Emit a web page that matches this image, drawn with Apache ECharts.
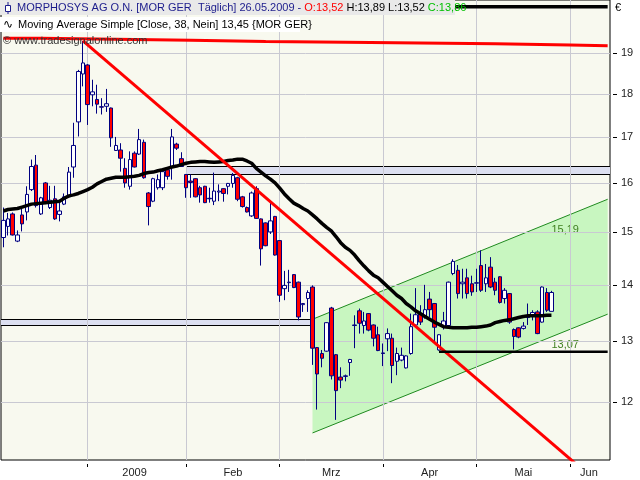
<!DOCTYPE html>
<html><head><meta charset="utf-8">
<script src="https://cdn.jsdelivr.net/npm/echarts@6/dist/echarts.min.js"></script>
<style>html,body{margin:0;padding:0;background:#fff}#c{width:640px;height:480px}</style>
</head><body><div id="c"></div><script>
// ---- categories: trading days (Xetra) ----
const holidays = ['2008-12-24','2008-12-25','2008-12-26','2008-12-31','2009-01-01','2009-04-10','2009-04-13','2009-05-01'];
const days = [];
for (let t = Date.UTC(2008,11,2); t <= Date.UTC(2009,5,11); t += 864e5) {
  const d = new Date(t), wd = d.getUTCDay(), s = d.toISOString().slice(0,10);
  if (wd === 0 || wd === 6 || holidays.includes(s)) continue;
  days.push(s);
}
const monthNames = {'2009-01':'2009','2009-02':'Feb','2009-03':'Mrz','2009-04':'Apr','2009-05':'Mai','2009-06':'Jun'};
const yTicks = [12,13,14,15,16,17,18,19];

// ---- OHLC (02.12.2008 .. 26.05.2009) ----
const open = [14.90,15.12,15.37,14.83,15.35,15.41,15.87,16.39,15.37,16.01,15.50,15.68,15.36,15.57,15.72,16.35,17.35,18.48,
18.70,17.98,17.87,17.70,17.71,17.67,16.71,16.72,16.32,15.94,16.65,16.63,16.89,15.80,15.63,15.91,15.91,16.29,16.36,16.85,16.53,
16.19,16.05,16.10,15.91,15.94,15.69,15.63,15.82,15.89,15.94,16.00,16.12,15.72,15.50,15.33,15.89,15.27,15.19,15.01,15.32,
14.84,13.93,14.04,14.19,14.05,13.64,13.75,13.96,12.89,12.79,12.83,13.58,12.77,12.40,12.41,12.64,13.27,13.53,13.27,13.48,13.28,13.11,
12.80,13.04,13.05,12.66,12.68,12.55,12.79,13.28,13.48,13.42,13.74,13.66,12.85,13.25,13.27,14.21,14.27,14.02,14.13,14.02,
14.03,14.36,14.02,14.33,14.05,14.15,13.75,13.84,13.20,13.23,13.22,13.41,13.45,13.51,13.33,13.86,13.52];
const high = [15.50,15.39,15.40,15.04,15.50,15.94,16.51,16.61,15.72,16.03,15.95,15.95,15.60,15.79,16.35,17.33,18.58,19.30,
18.72,18.34,18.22,17.90,18.12,17.68,17.01,16.87,16.54,16.69,16.69,17.19,16.95,15.82,16.12,16.19,16.29,16.35,17.19,16.88,16.67,
16.20,16.19,16.11,15.95,15.95,15.91,16.23,15.98,15.90,16.01,16.22,16.14,15.74,15.52,15.83,15.94,15.28,15.20,15.61,15.33,
14.85,14.26,14.28,14.20,14.06,13.67,13.90,13.99,12.90,12.85,13.33,13.60,12.78,12.56,12.44,12.70,13.45,13.57,13.51,13.49,13.29,13.25,
12.96,13.22,13.13,12.89,12.89,12.76,13.48,13.94,13.63,14.00,13.87,13.67,13.12,13.51,14.06,14.48,14.37,14.30,14.30,14.17,
14.30,14.65,14.39,14.52,14.13,14.16,13.94,13.85,13.22,13.24,13.33,13.66,13.54,13.54,13.97,13.94,13.89];
const low = [14.71,14.94,14.94,14.81,15.02,15.24,15.84,15.50,15.35,15.57,15.47,15.25,15.22,15.55,15.70,16.12,17.02,18.18,
17.28,17.71,17.54,17.52,17.58,16.79,16.70,16.25,15.91,15.87,16.34,16.61,16.10,15.14,15.61,15.87,15.86,16.08,16.08,16.72,16.35,
15.70,15.70,15.71,15.60,15.59,15.60,15.55,15.63,15.62,15.77,15.91,15.63,15.50,15.40,15.31,15.27,14.36,14.73,14.97,14.55,
13.69,13.72,13.87,13.94,13.36,13.51,13.51,12.60,11.88,12.56,12.82,12.36,11.72,12.22,12.33,12.42,12.88,13.13,13.13,13.17,12.91,12.83,
12.58,12.83,12.30,12.43,12.66,12.54,12.77,13.28,13.28,13.39,13.42,12.98,12.84,13.20,13.26,14.18,13.75,13.75,13.75,13.80,
13.87,13.87,13.87,13.94,13.81,13.66,13.66,13.30,12.86,13.05,13.20,13.28,13.36,13.12,13.32,13.51,13.52];
const close = [15.24,15.27,14.95,14.95,15.17,15.77,16.36,15.54,15.70,15.60,15.65,15.27,15.43,15.72,16.24,16.82,18.54,18.75,
17.75,18.05,17.76,17.69,17.77,16.99,16.82,16.54,16.01,16.51,16.35,16.95,16.12,15.52,16.10,16.08,16.25,16.15,17.01,16.76,16.36,
15.91,16.02,15.72,15.76,15.60,15.68,15.84,15.84,15.79,16.00,16.17,15.67,15.52,15.41,15.80,15.28,14.68,14.74,15.23,14.56,
13.81,13.99,14.05,13.95,13.42,13.66,13.86,12.88,12.45,12.71,13.32,12.42,12.18,12.35,12.42,12.69,13.28,13.31,13.35,13.19,13.05,12.84,
12.79,13.13,12.59,12.79,12.76,12.75,13.25,13.46,13.33,13.55,13.55,13.24,13.11,13.35,14.05,14.44,13.84,14.05,13.84,13.87,
14.04,13.90,14.13,13.96,13.90,13.68,13.90,13.33,13.08,13.07,13.26,13.42,13.50,13.13,13.96,13.54,13.86];
// Moving Average Simple (38)
const ma38 = [15.43,15.46,15.47,15.48,15.51,15.54,15.57,15.58,15.59,15.60,15.61,15.62,15.63,15.69,15.74,15.76,15.79,15.83,
15.87,15.92,15.99,16.04,16.09,16.11,16.13,16.13,16.13,16.14,16.15,16.17,16.21,16.23,16.24,16.27,16.29,16.32,16.35,16.37,16.40,
16.43,16.45,16.46,16.47,16.47,16.46,16.45,16.46,16.47,16.49,16.50,16.52,16.52,16.48,16.43,16.32,16.24,16.16,16.09,16.01,
15.90,15.78,15.68,15.59,15.54,15.48,15.43,15.35,15.27,15.18,15.10,15.03,14.92,14.80,14.71,14.65,14.56,14.45,14.35,14.26,14.18,14.13,
14.05,13.97,13.89,13.81,13.75,13.66,13.60,13.53,13.48,13.43,13.38,13.33,13.29,13.25,13.24,13.23,13.23,13.23,13.23,13.24,
13.24,13.25,13.26,13.28,13.32,13.34,13.36,13.37,13.39,13.41,13.43,13.44,13.44,13.44,13.44,13.45,13.45];

// ---- drawing tools ----
const redTrend = [['2008-12-30',19.30],['2009-06-11',10.67]];
const redLongSteps = [['2008-12-02',19.37],['2008-12-12',19.32],['2009-02-03',19.29],['2009-02-25',19.27],['2009-03-20',19.25],['2009-04-15',19.23],['2009-05-08',19.20],['2009-06-01',19.18],['2009-06-11',19.18]];
const topLine = [['2008-12-02',20.19],['2009-06-11',20.19]];
const supportLine = [['2009-04-21',12.82],['2009-06-11',12.82]];
const zoneBoxes = [{from:'2009-02-02', to:null, top:16.38, bottom:16.19},{from:null, to:'2009-03-11', top:13.38, bottom:13.28}];
const channelUpper = [['2009-03-11',13.38],['2009-06-11',15.67]];
const channelLower = [['2009-03-11',11.52],['2009-06-11',13.47]];
const channelLabels = [['2009-05-26',15.19,'15,19'],['2009-05-26',13.07,'13,07']];

const idx = d => days.indexOf(d);
const monthStart = new Set(), monthLabelIdx = new Set();
(function(){
  const groups = {};
  days.forEach((d,i)=>{ const m=d.slice(0,7); (groups[m]=groups[m]||[]).push(i); });
  Object.keys(groups).forEach(m=>{
    if (!monthNames[m]) return;
    const g = groups[m]; monthStart.add(g[0]);
    monthLabelIdx.add(Math.round((g[0]+g[g.length-1])/2));
  });
})();
const gridLineData = yTicks.map(v=>({yAxis:v})).concat([...monthStart].map(i=>({xAxis:days[i]})));

const FONT = 'Liberation Sans';
const chart = echarts.init(document.getElementById('c'), null, {renderer:'canvas'});
chart.setOption({
  animation:false,
  backgroundColor:'#ffffff',
  grid:{left:1,right:30,top:0,bottom:20,show:true,backgroundColor:'#f8f9ef',borderColor:'#000',borderWidth:1},
  xAxis:{type:'category',data:days,boundaryGap:true,offset:4,
    axisLine:{show:false},
    axisTick:{show:true,alignWithLabel:true,length:3,interval:(i)=>monthStart.has(i),lineStyle:{color:'#000'}},
    axisLabel:{interval:(i)=>monthLabelIdx.has(i),formatter:(v)=>monthNames[v.slice(0,7)]||'',margin:3,color:'#222',fontSize:11,fontFamily:FONT},
    splitLine:{show:false}},
  yAxis:{type:'log',logBase:10,position:'right',min:11.117,max:20.37,offset:3,
    axisLine:{show:false},
    axisTick:{show:true,customValues:yTicks,length:4,lineStyle:{color:'#000'}},
    axisLabel:{customValues:yTicks,margin:8,color:'#222',fontSize:11,fontFamily:FONT,formatter:(v)=>String(Math.round(v))},
    splitLine:{show:false}},
  graphic:[
    {type:'rect',z:100,shape:{x:0,y:0,width:455,height:15},style:{fill:'#e9e9e9'}},
    {type:'rect',z:100,shape:{x:0,y:17,width:300,height:15},style:{fill:'#ffffff'}},
    {type:'line',z:101,shape:{x1:8,y1:2,x2:8,y2:14},style:{stroke:'#1c1c8c',lineWidth:1}},
    {type:'rect',z:101,shape:{x:5.5,y:5.5,width:5,height:6},style:{fill:'#fff',stroke:'#1c1c8c',lineWidth:1}},
    {type:'text',z:101,x:17,y:8,style:{text:'{a|MORPHOSYS AG O.N. [MOR GER  Täglich] 26.05.2009 - }{b|O:13,52}{c| H:13,89 L:13,52 }{d|C:13,86}',verticalAlign:'middle',
      rich:{a:{fill:'#1c1c8c',fontSize:11,fontFamily:FONT},b:{fill:'#ff0000',fontSize:11,fontFamily:FONT},c:{fill:'#000',fontSize:11,fontFamily:FONT},d:{fill:'#00c000',fontSize:11,fontFamily:FONT}}}},
    {type:'text',z:101,x:3,y:24.5,style:{text:'∿',fill:'#000',fontSize:12,fontFamily:'DejaVu Sans',verticalAlign:'middle'}},
    {type:'text',z:101,x:18,y:24.5,style:{text:'Moving Average Simple [Close, 38, Nein] 13,45 {MOR GER}',fill:'#000',fontSize:11,fontFamily:FONT,verticalAlign:'middle'}},
    {type:'text',z:101,x:3,y:41,style:{text:'© www.tradesignalonline.com',fill:'#333',fontSize:11,fontFamily:FONT,verticalAlign:'middle'}},
    {type:'text',z:101,x:615,y:8,style:{text:'€',fill:'#000',fontSize:11,fontFamily:FONT,verticalAlign:'middle'}}
  ],
  series:[
    {type:'custom',z:1,silent:true,data:[[0,13]],
      renderItem:(params,api)=>{
        const p = [api.coord([idx(channelUpper[0][0]),channelUpper[0][1]]),api.coord([idx(channelUpper[1][0]),channelUpper[1][1]]),
                   api.coord([idx(channelLower[1][0]),channelLower[1][1]]),api.coord([idx(channelLower[0][0]),channelLower[0][1]])];
        return {type:'polygon',shape:{points:p},style:{fill:'#c8f6c0'}};
      }},
    {type:'line',z:2,silent:true,data:[],markLine:{silent:true,symbol:'none',label:{show:false},animation:false,
      lineStyle:{color:'#c9c9d2',width:1,type:'solid'},data:gridLineData}},
    {type:'custom',z:3,silent:true,data:zoneBoxes.map((z,k)=>[k,z.top]),
      renderItem:(params,api)=>{
        const zb = zoneBoxes[params.dataIndex], cs = params.coordSys;
        const x0 = zb.from ? api.coord([idx(zb.from),zb.top])[0] : cs.x;
        const x1 = zb.to ? api.coord([idx(zb.to),zb.top])[0] : cs.x+cs.width;
        const yT = Math.round(api.coord([0,zb.top])[1])+0.5, yB = Math.round(api.coord([0,zb.bottom])[1])+0.5;
        return {type:'group',children:[
          {type:'rect',shape:{x:x0,y:yT,width:x1-x0,height:yB-yT},style:{fill:'#dcdff0'}},
          {type:'line',shape:{x1:x0,y1:yT,x2:x1,y2:yT},style:{stroke:'#000',lineWidth:1}},
          {type:'line',shape:{x1:x0,y1:yB,x2:x1,y2:yB},style:{stroke:'#000',lineWidth:1}}]};
      }},
    {type:'line',z:4,silent:true,symbol:'none',data:channelUpper,lineStyle:{color:'#1f8a1f',width:1}},
    {type:'line',z:4,silent:true,symbol:'none',data:channelLower,lineStyle:{color:'#1f8a1f',width:1}},
    {type:'custom',z:4,silent:true,data:channelLabels.map(l=>[idx(l[0]),l[1]]),
      renderItem:(params,api)=>{
        const l = channelLabels[params.dataIndex]; const p = api.coord([idx(l[0]),l[1]]);
        return {type:'text',x:p[0],y:p[1]+2,style:{text:l[2],fill:'#3f7f1f',fontSize:11,fontFamily:FONT,align:'left',verticalAlign:'top'}};
      }},
    {type:'candlestick',z:5,silent:true,barWidth:4,
      data:open.map((o,i)=>[o,close[i],low[i],high[i]]),
      itemStyle:{color:'#ffffff',color0:'#ff0000',borderColor:'#000080',borderColor0:'#000080',borderWidth:1}},
    {type:'line',z:6,silent:true,symbol:'none',data:ma38,lineStyle:{color:'#000',width:3.5}},
    {type:'line',z:7,silent:true,symbol:'none',step:'end',data:redLongSteps,lineStyle:{color:'#ff0000',width:3}},
    {type:'line',z:7,silent:true,symbol:'none',data:redTrend,lineStyle:{color:'#ff0000',width:3}},
    {type:'line',z:7,silent:true,symbol:'none',data:supportLine,lineStyle:{color:'#000',width:2.5}},
    {type:'line',z:7,silent:true,symbol:'none',data:topLine,lineStyle:{color:'#000',width:3.5}}
  ]
});
</script></body></html>
